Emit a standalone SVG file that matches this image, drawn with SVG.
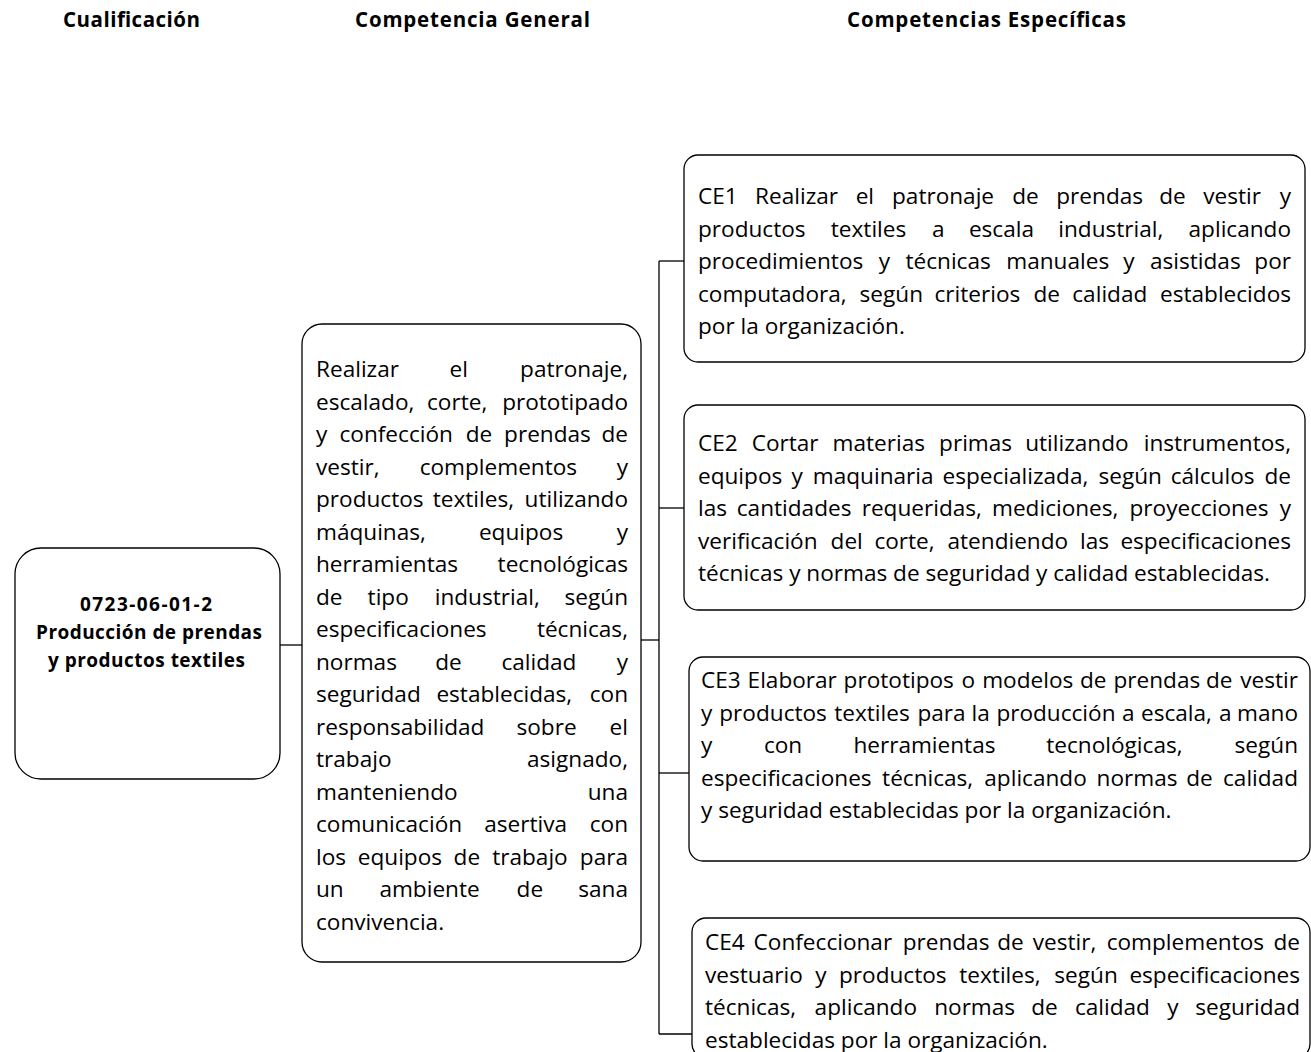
<svg xmlns="http://www.w3.org/2000/svg" width="1311" height="1052" viewBox="0 0 1311 1052">
<style>
.box{fill:#fff;stroke:#000;stroke-width:1.3}
.t{font-family:"Open Sans","Noto Sans","Liberation Sans",sans-serif;font-size:22.6px;fill:#000}
.e{text-anchor:end}
.b{font-family:"Open Sans","Noto Sans","Liberation Sans",sans-serif;font-weight:700;font-size:19px;fill:#000}
.h{font-family:"Open Sans","Noto Sans","Liberation Sans",sans-serif;font-weight:700;font-size:20.5px;fill:#000}
.c{stroke:#000;stroke-width:1.3;fill:none}
</style>
<rect width="1311" height="1052" fill="#fff"/>
<g id="headers">
<text class="h" x="63" y="27" textLength="137">Cualificación</text>
<text class="h" x="355" y="27" textLength="235">Competencia General</text>
<text class="h" x="847" y="27" textLength="279">Competencias Específicas</text>
</g>
<g id="connectors">
<path class="c" d="M280,645H302"/>
<path class="c" d="M641,640H659"/>
<path class="c" d="M659,261V1034"/>
<path class="c" d="M659,261H684"/>
<path class="c" d="M659,508H684"/>
<path class="c" d="M659,773H689"/>
<path class="c" d="M659,1034H692"/>
</g>
<g id="node-cualificacion">
<rect class="box" x="15" y="548" width="265" height="231" rx="26"/>
<text class="b" x="80" y="611" textLength="132">0723-06-01-2</text>
<text class="b" x="36" y="639" textLength="226">Producción de prendas</text>
<text class="b" x="48" y="667" textLength="197">y productos textiles</text>
</g>
<g id="node-general">
<rect class="box" x="302" y="324" width="339" height="638" rx="20"/>
<text class="t" y="377"><tspan x="316">Realizar</tspan><tspan x="449.5">el</tspan></text><text class="t e" x="628" y="377">patronaje,</text>
<text class="t" y="409.5"><tspan x="316">escalado,</tspan><tspan x="427">corte,</tspan></text><text class="t e" x="628" y="409.5">prototipado</text>
<text class="t" y="442"><tspan x="316">y</tspan><tspan x="339.5">confección</tspan><tspan x="465.8">de</tspan><tspan x="504.1">prendas</tspan></text><text class="t e" x="628" y="442">de</text>
<text class="t" y="474.5"><tspan x="316">vestir,</tspan><tspan x="419.7">complementos</tspan></text><text class="t e" x="628" y="474.5">y</text>
<text class="t" y="507"><tspan x="316">productos</tspan><tspan x="432.7">textiles,</tspan></text><text class="t e" x="628" y="507">utilizando</text>
<text class="t" y="539.5"><tspan x="316">máquinas,</tspan><tspan x="478.9">equipos</tspan></text><text class="t e" x="628" y="539.5">y</text>
<text class="t" x="316" y="572">herramientas</text><text class="t e" x="628" y="572">tecnológicas</text>
<text class="t" y="604.5"><tspan x="316">de</tspan><tspan x="367.6">tipo</tspan><tspan x="434.7">industrial,</tspan></text><text class="t e" x="628" y="604.5">según</text>
<text class="t" x="316" y="637">especificaciones</text><text class="t e" x="628" y="637">técnicas,</text>
<text class="t" y="669.5"><tspan x="316">normas</tspan><tspan x="435.3">de</tspan><tspan x="501.4">calidad</tspan></text><text class="t e" x="628" y="669.5">y</text>
<text class="t" y="702"><tspan x="316">seguridad</tspan><tspan x="436.4">establecidas,</tspan></text><text class="t e" x="628" y="702">con</text>
<text class="t" y="734.5"><tspan x="316">responsabilidad</tspan><tspan x="516.5">sobre</tspan></text><text class="t e" x="628" y="734.5">el</text>
<text class="t" x="316" y="767">trabajo</text><text class="t e" x="628" y="767">asignado,</text>
<text class="t" x="316" y="799.5">manteniendo</text><text class="t e" x="628" y="799.5">una</text>
<text class="t" y="832"><tspan x="316">comunicación</tspan><tspan x="484.2">asertiva</tspan></text><text class="t e" x="628" y="832">con</text>
<text class="t" y="864.5"><tspan x="316">los</tspan><tspan x="357.8">equipos</tspan><tspan x="453.6">de</tspan><tspan x="492.2">trabajo</tspan></text><text class="t e" x="628" y="864.5">para</text>
<text class="t" y="897"><tspan x="316">un</tspan><tspan x="379.4">ambiente</tspan><tspan x="516.6">de</tspan></text><text class="t e" x="628" y="897">sana</text>
<text class="t" x="316" y="929.5">convivencia.</text>
</g>
<g id="node-ce1">
<rect class="box" x="684" y="155" width="621" height="207" rx="14"/>
<text class="t" y="204"><tspan x="698">CE1</tspan><tspan x="755.1">Realizar</tspan><tspan x="855.7">el</tspan><tspan x="892">patronaje</tspan><tspan x="1012.3">de</tspan><tspan x="1056.3">prendas</tspan><tspan x="1159.3">de</tspan><tspan x="1203.3">vestir</tspan></text><text class="t e" x="1291" y="204">y</text>
<text class="t" y="236.5"><tspan x="698">productos</tspan><tspan x="830.8">textiles</tspan><tspan x="931.9">a</tspan><tspan x="968.9">escala</tspan><tspan x="1058.3">industrial,</tspan></text><text class="t e" x="1291" y="236.5">aplicando</text>
<text class="t" y="269"><tspan x="698">procedimientos</tspan><tspan x="878.8">y</tspan><tspan x="905.5">técnicas</tspan><tspan x="1006.3">manuales</tspan><tspan x="1123.3">y</tspan><tspan x="1150">asistidas</tspan></text><text class="t e" x="1291" y="269">por</text>
<text class="t" y="301.5"><tspan x="698">computadora,</tspan><tspan x="859.6">según</tspan><tspan x="934.5">criterios</tspan><tspan x="1033.4">de</tspan><tspan x="1072.3">calidad</tspan></text><text class="t e" x="1291" y="301.5">establecidos</text>
<text class="t" x="698" y="334">por la organización.</text>
</g>
<g id="node-ce2">
<rect class="box" x="684" y="405" width="621" height="205" rx="14"/>
<text class="t" y="451"><tspan x="698">CE2</tspan><tspan x="751.7">Cortar</tspan><tspan x="832.6">materias</tspan><tspan x="939.1">primas</tspan><tspan x="1025.2">utilizando</tspan></text><text class="t e" x="1291" y="451">instrumentos,</text>
<text class="t" y="483.5"><tspan x="698">equipos</tspan><tspan x="791.4">y</tspan><tspan x="812.8">maquinaria</tspan><tspan x="942.5">especializada,</tspan><tspan x="1098.5">según</tspan><tspan x="1170.7">cálculos</tspan></text><text class="t e" x="1291" y="483.5">de</text>
<text class="t" y="516"><tspan x="698">las</tspan><tspan x="736.8">cantidades</tspan><tspan x="861.7">requeridas,</tspan><tspan x="992">mediciones,</tspan><tspan x="1129.5">proyecciones</tspan></text><text class="t e" x="1291" y="516">y</text>
<text class="t" y="548.5"><tspan x="698">verificación</tspan><tspan x="830.6">del</tspan><tspan x="874.4">corte,</tspan><tspan x="947.5">atendiendo</tspan><tspan x="1080.1">las</tspan></text><text class="t e" x="1291" y="548.5">especificaciones</text>
<text class="t" x="698" y="581">técnicas y normas de seguridad y calidad establecidas.</text>
</g>
<g id="node-ce3">
<rect class="box" x="689" y="657" width="621" height="204" rx="14"/>
<text class="t" y="688"><tspan x="701">CE3</tspan><tspan x="747.6">Elaborar</tspan><tspan x="843.6">prototipos</tspan><tspan x="961.6">o</tspan><tspan x="982.2">modelos</tspan><tspan x="1080">de</tspan><tspan x="1113.5">prendas</tspan><tspan x="1206">de</tspan></text><text class="t e" x="1298" y="688">vestir</text>
<text class="t" y="720.5"><tspan x="701">y</tspan><tspan x="719.3">productos</tspan><tspan x="834.2">textiles</tspan><tspan x="917.4">para</tspan><tspan x="971.5">la</tspan><tspan x="996.4">producción</tspan><tspan x="1122">a</tspan><tspan x="1141">escala,</tspan><tspan x="1219">a</tspan></text><text class="t e" x="1298" y="720.5">mano</text>
<text class="t" y="753"><tspan x="701">y</tspan><tspan x="763.9">con</tspan><tspan x="853.4">herramientas</tspan><tspan x="1046.3">tecnológicas,</tspan></text><text class="t e" x="1298" y="753">según</text>
<text class="t" y="785.5"><tspan x="701">especificaciones</tspan><tspan x="882.1">técnicas,</tspan><tspan x="984.3">aplicando</tspan><tspan x="1096.6">normas</tspan><tspan x="1186.2">de</tspan></text><text class="t e" x="1298" y="785.5">calidad</text>
<text class="t" x="701" y="818">y seguridad establecidas por la organización.</text>
</g>
<g id="node-ce4">
<rect class="box" x="692" y="918" width="618" height="140" rx="14"/>
<text class="t" y="950"><tspan x="705">CE4</tspan><tspan x="753.6">Confeccionar</tspan><tspan x="902.7">prendas</tspan><tspan x="997.2">de</tspan><tspan x="1032.7">vestir,</tspan><tspan x="1106.7">complementos</tspan></text><text class="t e" x="1300" y="950">de</text>
<text class="t" y="982.5"><tspan x="705">vestuario</tspan><tspan x="815.3">y</tspan><tspan x="839">productos</tspan><tspan x="959.3">textiles,</tspan><tspan x="1054.3">según</tspan></text><text class="t e" x="1300" y="982.5">especificaciones</text>
<text class="t" y="1015"><tspan x="705">técnicas,</tspan><tspan x="814.6">aplicando</tspan><tspan x="934.2">normas</tspan><tspan x="1031.2">de</tspan><tspan x="1074.9">calidad</tspan><tspan x="1167.3">y</tspan></text><text class="t e" x="1300" y="1015">seguridad</text>
<text class="t" x="705" y="1047.5">establecidas por la organización.</text>
</g>
</svg>
